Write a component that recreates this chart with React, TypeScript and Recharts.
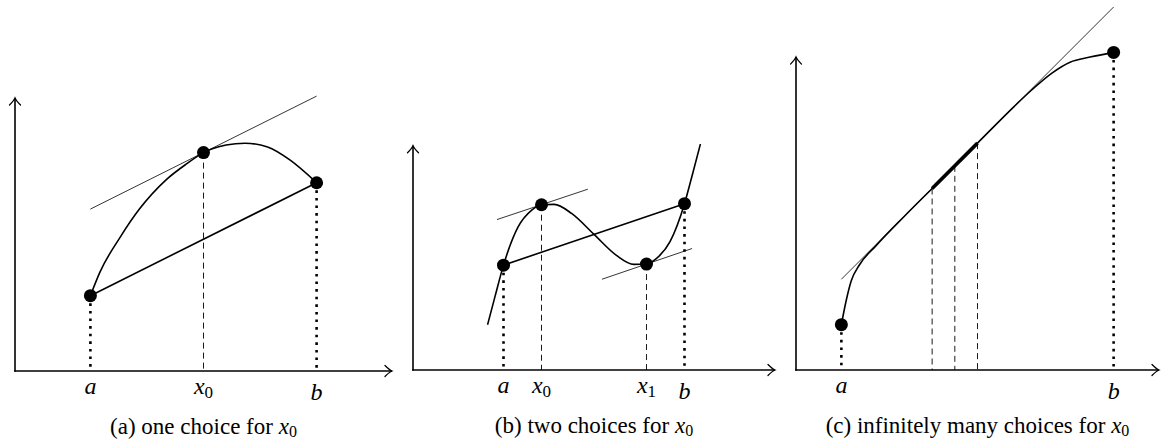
import { ComposedChart, Line, XAxis, YAxis, ReferenceLine, ReferenceDot, Label } from 'recharts';

type Pt = { x: number; y: number };

// (a) one choice for x0
const curveA: Pt[] = [
  { x: 2, y: 2 }, { x: 2.25, y: 2.62 }, { x: 2.8, y: 3.57 }, { x: 3.3, y: 4.3 },
  { x: 4, y: 5.07 }, { x: 4.55, y: 5.5 }, { x: 5, y: 5.8 }, { x: 5.6, y: 6.0 },
  { x: 6.1, y: 6.05 }, { x: 6.7, y: 5.95 }, { x: 7.3, y: 5.6 }, { x: 8, y: 5 },
];
const endsA: Pt[] = [{ x: 2, y: 2 }, { x: 8, y: 5 }];
const choicesA: Pt[] = [{ x: 5, y: 5.8 }];
const tangentsA: Pt[][] = [[{ x: 2, y: 4.3 }, { x: 8, y: 7.3 }]];
const ticksA = [2, 5, 8];
const namesA = ['a', 'x0', 'b'];

// (b) two choices for x0
const curveB: Pt[] = [
  { x: 2.06, y: 1.25 }, { x: 2.27, y: 2.05 }, { x: 2.5, y: 2.9 }, { x: 2.9, y: 3.95 },
  { x: 3.28, y: 4.42 }, { x: 3.55, y: 4.57 }, { x: 3.9, y: 4.58 }, { x: 4.38, y: 4.33 },
  { x: 5, y: 3.75 }, { x: 5.62, y: 3.17 }, { x: 6.1, y: 2.92 }, { x: 6.45, y: 2.93 },
  { x: 6.72, y: 3.08 }, { x: 7.1, y: 3.55 }, { x: 7.5, y: 4.6 }, { x: 7.73, y: 5.45 },
  { x: 7.94, y: 6.25 },
];
const endsB: Pt[] = [{ x: 2.5, y: 2.9 }, { x: 7.5, y: 4.6 }];
const choicesB: Pt[] = [{ x: 3.55, y: 4.57 }, { x: 6.45, y: 2.93 }];
const tangentsB: Pt[][] = [
  [{ x: 2.32, y: 4.16 }, { x: 4.83, y: 5.0 }],
  [{ x: 5.22, y: 2.51 }, { x: 7.71, y: 3.36 }],
];
const ticksB = [2.5, 3.55, 6.45, 7.5];
const namesB = ['a', 'x0', 'x1', 'b'];

// (c) infinitely many choices for x0
const curveC: Pt[] = [
  { x: 1.25, y: 1.25 }, { x: 1.38, y: 1.9 }, { x: 1.52, y: 2.45 }, { x: 1.75, y: 2.9 },
  { x: 2.2, y: 3.42 }, { x: 3, y: 4.25 }, { x: 3.75, y: 5 }, { x: 4.375, y: 5.625 },
  { x: 5, y: 6.25 }, { x: 6, y: 7.25 }, { x: 6.5, y: 7.72 }, { x: 7.05, y: 8.18 },
  { x: 7.55, y: 8.48 }, { x: 8.1, y: 8.62 }, { x: 8.75, y: 8.75 },
];
const endsC: Pt[] = [{ x: 1.25, y: 1.25 }, { x: 8.75, y: 8.75 }];
const choicesC: Pt[] = [{ x: 3.75, y: 5 }, { x: 4.375, y: 5.625 }, { x: 5, y: 6.25 }];
const tangentsC: Pt[][] = [[{ x: 1.25, y: 2.5 }, { x: 8.75, y: 10 }]];
const ticksC = [1.25, 8.75];
const namesC = ['a', 'b'];

const captions = ['(a) one choice for ', '(b) two choices for ', '(c) infinitely many choices for '];

const panels = [
  { curve: curveA, ends: endsA, choices: choicesA, tangents: tangentsA, ticks: ticksA, names: namesA,
    chord: true, dotChoices: true, bold: false, xMax: 10, yMax: 7.25, yTip: 7.25 },
  { curve: curveB, ends: endsB, choices: choicesB, tangents: tangentsB, ticks: ticksB, names: namesB,
    chord: true, dotChoices: true, bold: false, xMax: 10, yMax: 6.25, yTip: 6.2 },
  { curve: curveC, ends: endsC, choices: choicesC, tangents: tangentsC, ticks: ticksC, names: namesC,
    chord: false, dotChoices: false, bold: true, xMax: 10, yMax: 10, yTip: 8.62 },
];

const LAYOUT = [
  { left: 0, width: 400, top: 98, mLeft: 15, mRight: 8, axisH: 71 },
  { left: 400, width: 390, top: 144, mLeft: 13, mRight: 15, axisH: 72 },
  { left: 790, width: 377, top: 7, mLeft: 6, mRight: 8, axisH: 72 },
];

const H = 442;
const SERIF = "'Liberation Serif', 'Times New Roman', serif";
const INK = '#000';

const arrowShape = (dir: 'x' | 'y') => (p: any) => {
  const { x1, y1, x2, y2 } = p;
  const head = dir === 'x'
    ? `M${x2 - 7},${y2 - 5.5} Q${x2 - 2.5},${y2 - 1} ${x2},${y2} Q${x2 - 2.5},${y2 + 1} ${x2 - 7},${y2 + 5.5}`
    : `M${x2 - 5.5},${y2 + 7} Q${x2 - 1},${y2 + 2.5} ${x2},${y2} Q${x2 + 1},${y2 + 2.5} ${x2 + 5.5},${y2 + 7}`;
  const sx = dir === 'x' ? x1 - 0.8 : x1;
  const sy = dir === 'y' ? y1 + 0.8 : y1;
  return (
    <g>
      <line x1={sx} y1={sy} x2={x2} y2={y2} stroke={INK} strokeWidth={1.6} />
      <path d={head} fill="none" stroke={INK} strokeWidth={1.3} strokeLinecap="round" />
    </g>
  );
};

function MathTick(props: any) {
  const { x, y, payload, ticks, names } = props;
  const name: string = names[ticks.indexOf(payload.value)] ?? '';
  const dy = name === 'b' ? 29 : 23;
  return (
    <text x={x} y={y + dy} textAnchor="middle" fontFamily={SERIF} fontSize={24} fill={INK}>
      <tspan fontStyle="italic">{name[0]}</tspan>
      {name.length > 1 && <tspan fontSize={17} dy={4}>{name.slice(1)}</tspan>}
    </text>
  );
}

function Panel({ idx }: { idx: number }) {
  const p = panels[idx];
  const L = LAYOUT[idx];
  const plotW = L.width - L.mLeft - L.mRight;
  return (
    <div style={{ position: 'absolute', left: L.left, top: 0, width: L.width, height: H }}>
      <ComposedChart
        width={L.width}
        height={H}
        margin={{ top: L.top, left: L.mLeft, right: L.mRight, bottom: 0 }}
      >
        <XAxis
          type="number"
          dataKey="x"
          domain={[0, p.xMax]}
          allowDataOverflow
          ticks={p.ticks}
          interval={0}
          height={L.axisH}
          axisLine={false}
          tickLine={false}
          tickSize={0}
          tickMargin={0}
          tick={(tp: any) => <MathTick {...tp} ticks={p.ticks} names={p.names} />}
        >
          <Label
            content={() => (
              <text
                x={L.mLeft + plotW / 2}
                y={H - L.axisH + 63}
                textAnchor="middle"
                fontFamily={SERIF}
                fontSize={23}
                fill={INK}
              >
                {captions[idx]}
                <tspan fontStyle="italic">x</tspan>
                <tspan fontSize={16} dy={3}>0</tspan>
              </text>
            )}
          />
        </XAxis>
        <YAxis type="number" dataKey="y" domain={[0, p.yMax]} allowDataOverflow hide />

        {/* axes */}
        <ReferenceLine segment={[{ x: 0, y: 0 }, { x: p.xMax, y: 0 }]} ifOverflow="visible" shape={arrowShape('x')} />
        <ReferenceLine segment={[{ x: 0, y: 0 }, { x: 0, y: p.yTip }]} ifOverflow="visible" shape={arrowShape('y')} />

        {/* drop lines */}
        {p.ends.map((e, i) => (
          <ReferenceLine key={`d${i}`} segment={[{ x: e.x, y: e.y }, { x: e.x, y: 0 }]} ifOverflow="visible"
            stroke={INK} strokeWidth={2.6} strokeDasharray="2.6 5" />
        ))}
        {p.choices.map((c, i) => (
          <ReferenceLine key={`c${i}`} segment={[{ x: c.x, y: c.y }, { x: c.x, y: 0 }]} ifOverflow="visible"
            stroke={INK} strokeWidth={0.9} strokeDasharray="6 4" />
        ))}

        {/* tangents */}
        {p.tangents.map((t, i) => (
          <ReferenceLine key={`t${i}`} segment={[t[0], t[1]]} ifOverflow="visible" stroke={INK} strokeWidth={0.8} />
        ))}

        {/* chord */}
        {p.chord && (
          <ReferenceLine segment={[p.ends[0], p.ends[1]]} ifOverflow="visible" stroke={INK} strokeWidth={1.6} />
        )}

        {p.bold && (
          <ReferenceLine segment={[p.choices[0], p.choices[p.choices.length - 1]]} ifOverflow="visible"
            stroke={INK} strokeWidth={3.6} />
        )}

        <Line
          data={p.curve}
          dataKey="y"
          type="monotone"
          stroke={INK}
          strokeWidth={1.6}
          dot={false}
          activeDot={false}
          isAnimationActive={false}
        />

        {p.ends.map((e, i) => (
          <ReferenceDot key={`pe${i}`} x={e.x} y={e.y} r={6.5} fill={INK} stroke="none" ifOverflow="visible" />
        ))}
        {p.dotChoices && p.choices.map((c, i) => (
          <ReferenceDot key={`pc${i}`} x={c.x} y={c.y} r={6.5} fill={INK} stroke="none" ifOverflow="visible" />
        ))}
      </ComposedChart>
    </div>
  );
}

export default function App() {
  return (
    <div style={{ position: 'absolute', left: 0, top: 0, width: 1167, height: H, background: '#fff' }}>
      <Panel idx={0} />
      <Panel idx={1} />
      <Panel idx={2} />
    </div>
  );
}
